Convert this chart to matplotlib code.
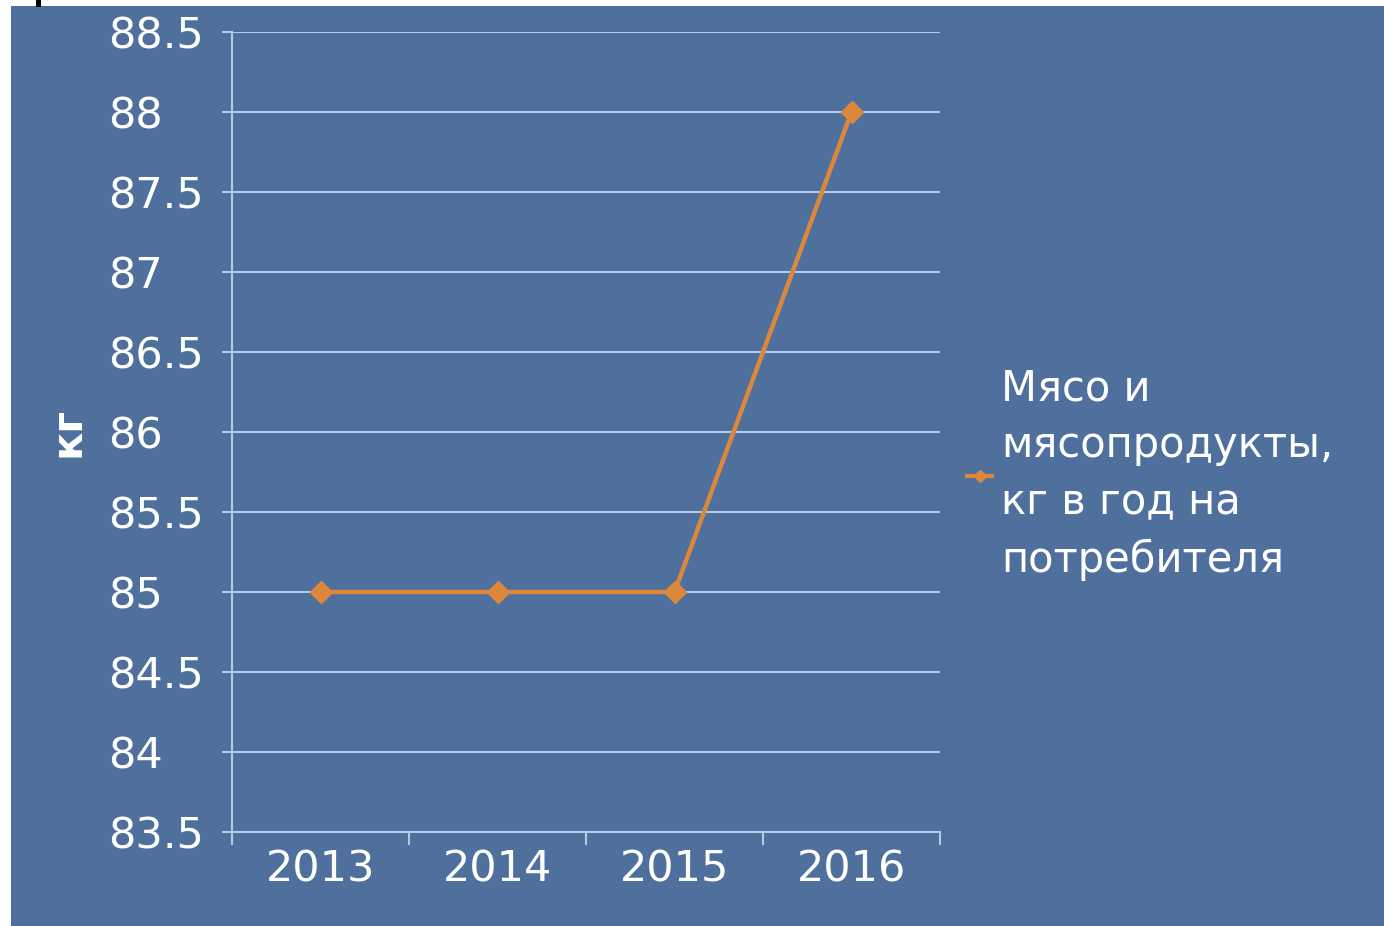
import numpy as np
import matplotlib.pyplot as plt
from matplotlib.patches import Rectangle
from matplotlib.lines import Line2D

years = ["2013", "2014", "2015", "2016"]
meat_kg = [85, 85, 85, 88]
y_ticks = [83.5, 84, 84.5, 85, 85.5, 86, 86.5, 87, 87.5, 88, 88.5]
series_label = "Мясо и\nмясопродукты,\nкг в год на\nпотребителя"

bg = "#4f709c"
grid_col = "#b3c9e6"
line_col = "#dd873c"

plt.rcParams['font.family'] = ['DejaVu Sans']

fig = plt.figure(figsize=(13.84, 9.26), dpi=100, facecolor="white")
# blue slide background
fig.patches.append(Rectangle((11 / 1384, 0), 1 - 11 / 1384, 1 - 6 / 926,
                             transform=fig.transFigure, facecolor=bg,
                             edgecolor="none", zorder=-5))
# cut-off glyph of the slide title at the top edge
fig.patches.append(Rectangle((36 / 1384, 1 - 7 / 926), 5 / 1384, 7 / 926,
                             transform=fig.transFigure, facecolor="black",
                             edgecolor="none", zorder=-4))

ax = fig.add_axes([232 / 1384, 1 - 832 / 926, 708 / 1384, 800 / 926])
ax.set_facecolor("none")
ax.set_zorder(2)

x = np.arange(len(years))
ax.plot(x, meat_kg, color=line_col, lw=3.2, marker="D", markersize=11,
        markerfacecolor=line_col, markeredgecolor=line_col, zorder=3)

ax.set_xlim(-0.5, len(years) - 0.5)
ax.set_ylim(83.5, 88.5)
ax.set_yticks(y_ticks)
ax.set_yticklabels([f"{v:g}" for v in y_ticks], ha="left")
ax.set_xticks(x)
ax.set_xticklabels(years)
ax.set_xticks(np.arange(-0.5, len(years)), minor=True)

ax.grid(axis="y", color=grid_col, lw=1.5)
ax.set_axisbelow(True)
for s in ["top", "right"]:
    ax.spines[s].set_visible(False)
for s in ["left", "bottom"]:
    ax.spines[s].set_color(grid_col)
    ax.spines[s].set_linewidth(1.5)

# labels left-aligned like the original slide
ax.tick_params(axis="y", colors=grid_col, length=7, width=1.5,
               labelcolor="white", labelsize=31, pad=82)
ax.tick_params(axis="x", which="major", length=0, labelcolor="white",
               labelsize=31, pad=12)
ax.tick_params(axis="x", which="minor", colors=grid_col, length=9, width=1.5)

ax.set_ylabel("кг", color="white", fontsize=30, fontweight="bold")
ax.yaxis.set_label_coords(-0.203, 0.5)

handle = Line2D([0], [0], color=line_col, lw=3, marker="D", markersize=6)
leg = fig.legend([handle], [series_label], loc="center left",
                 bbox_to_anchor=(930 / 1384, 1 - 474 / 926), frameon=False,
                 fontsize=30, labelcolor="white", handlelength=0.6,
                 handletextpad=0.2)
leg.get_texts()[0].set_linespacing(1.45)

fig.savefig("out.png", dpi=100, facecolor="white")
